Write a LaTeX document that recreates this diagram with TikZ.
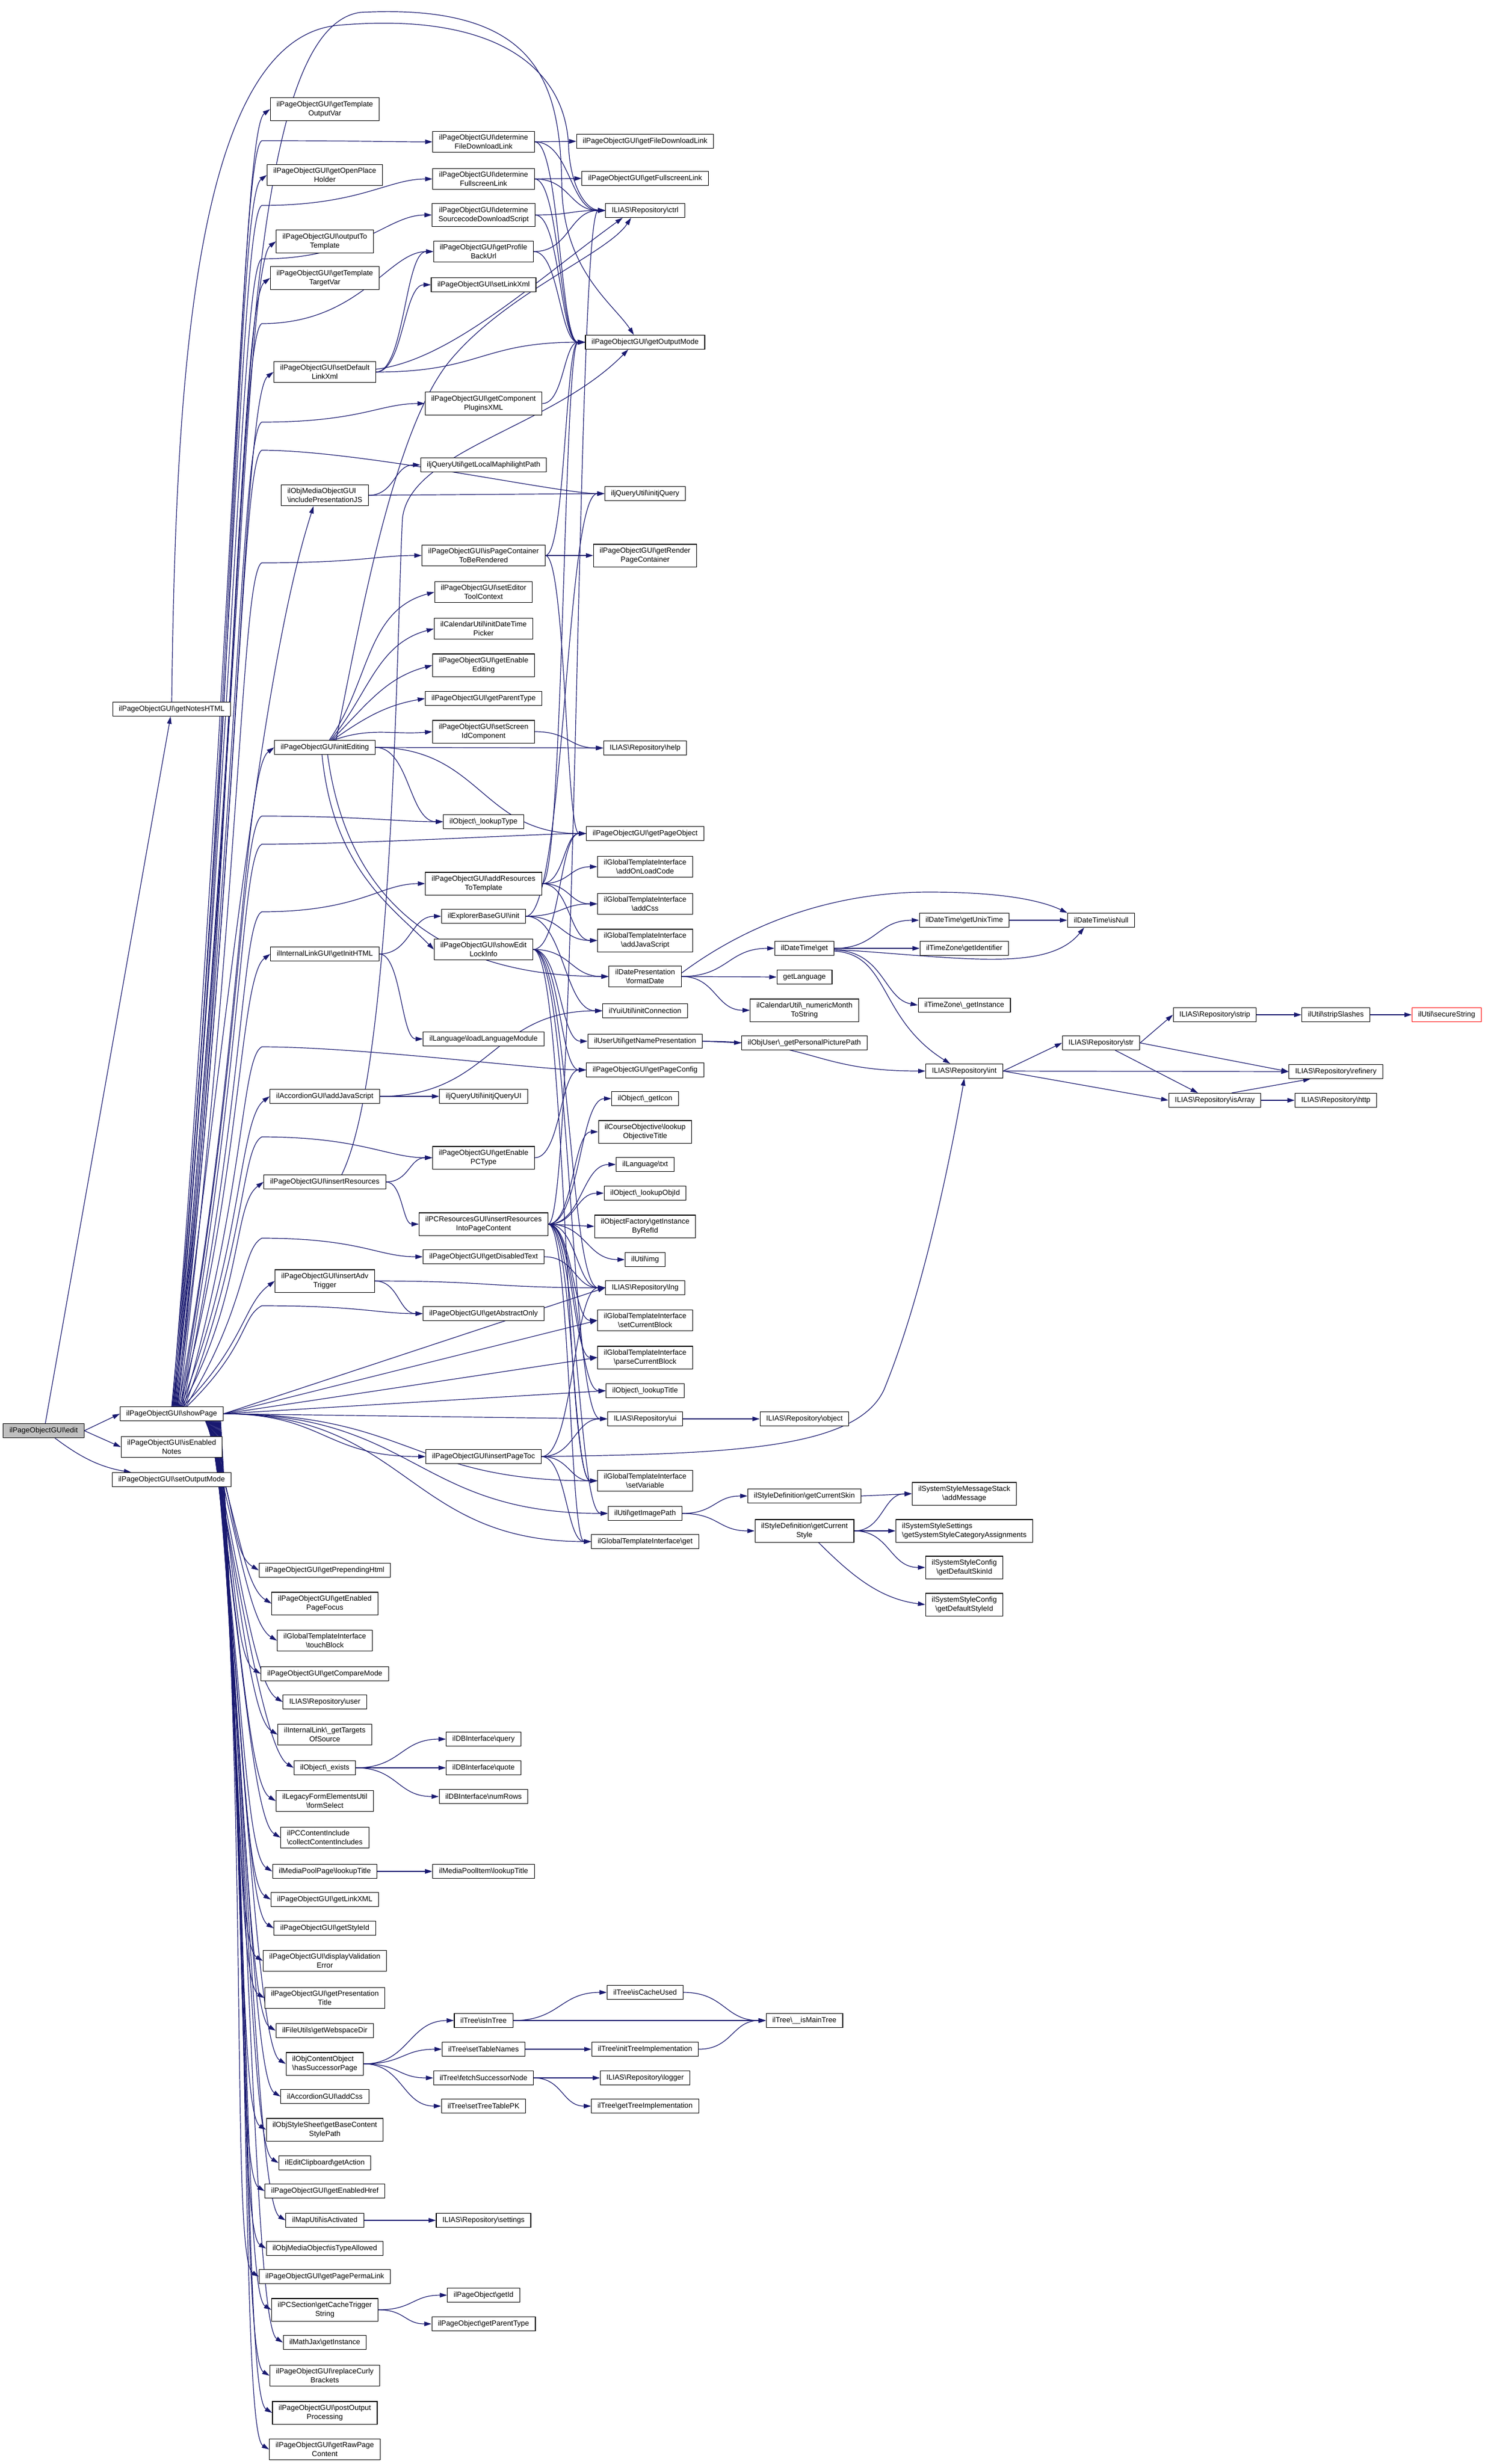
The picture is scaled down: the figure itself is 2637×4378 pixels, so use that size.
\documentclass[tikz,border=0pt]{standalone}
\usepackage{fontspec}
\setmainfont{Liberation Sans}
\usetikzlibrary{arrows.meta,calc}
\pgfdeclarelayer{background}
\pgfsetlayers{background,main}
\definecolor{edgec}{HTML}{191970}
\definecolor{gfill}{HTML}{BFBFBF}
\newcommand{\bs}{\textbackslash}
\newcommand{\fsz}{\fontsize{13}{16}\selectfont}
\tikzset{
 box/.style={draw=black, line width=1.1pt, fill=white, font=\fsz, inner xsep=11pt, inner ysep=6pt, minimum height=25pt, align=center},
 lbox/.style={box, align=left},
 link/.style={draw=edgec, line width=1.2pt, -{Triangle[length=13pt,width=8pt]}},
}
\newcommand{\lkH}[2]{\draw[link] let \p1=(#1.east),\p2=(#2.west),\n1={0.5*(\x2-\x1)} in (\p1) .. controls +(\n1,0) and +(-\n1,0) .. (\p2);}
\newcommand{\lkS}[2]{\draw[link] (#1.east) -- (#2.west);}
\newcommand{\lkU}[3]{\draw[link] let \p1=([xshift=#3pt]#1.north),\p2=(#2.west),\n1={0.5*(\y2-(\y1))} in (\p1) .. controls +(110,\n1) and +(-55,-40) .. (\p2);}
\newcommand{\lkD}[3]{\draw[link] let \p1=([xshift=#3pt]#1.south),\p2=(#2.west),\n1={0.5*(\y2-(\y1))} in (\p1) .. controls +(55,\n1) and +(-50,30) .. (\p2);}
\newcommand{\lkV}[4]{\draw[link] let \p1=([xshift=#3pt]#1.north),\p2=(#2.west),\n1={0.6*(-#4pt-(\y1))} in (\p1) .. controls +(110,\n1) and (428,-#4-20) .. (465,-#4) .. controls (640,-#4) and ($(\p2)+(-80,0)$) .. (\p2);}
\begin{document}
\begin{tikzpicture}[x=1pt,y=1pt]
\begin{pgfonlayer}{background}
\fill[white] (0,0) rectangle (2637,-4378);
\end{pgfonlayer}
\useasboundingbox (0,0) rectangle (2637,-4378);
% column 0 / 1
\node[box,fill=gfill] (edit) at (77.5,-2542) {ilPageObjectGUI\bs edit};
\node[box] (nhtml) at (305,-1260) {ilPageObjectGUI\bs getNotesHTML};
\node[box] (sp) at (305,-2512) {ilPageObjectGUI\bs showPage};
\node[box] (ien) at (305,-2571) {ilPageObjectGUI\bs isEnabled\\Notes};
\node[box] (som) at (305,-2629) {ilPageObjectGUI\bs setOutputMode};
% column 2
\node[box] (tov) at (577,-194) {ilPageObjectGUI\bs getTemplate\\OutputVar};
\node[box] (oph) at (577,-311) {ilPageObjectGUI\bs getOpenPlace\\Holder};
\node[box] (ott) at (577,-429) {ilPageObjectGUI\bs outputTo\\Template};
\node[box] (ttv) at (577,-494) {ilPageObjectGUI\bs getTemplate\\TargetVar};
\node[box] (sdl) at (577,-661) {ilPageObjectGUI\bs setDefault\\LinkXml};
\node[lbox] (ipj) at (577,-880) {ilObjMediaObjectGUI\\\bs includePresentationJS};
\node[box] (ie) at (577,-1328) {ilPageObjectGUI\bs initEditing};
\node[box] (gih) at (577,-1695) {ilInternalLinkGUI\bs getInitHTML};
\node[box] (ajs) at (577,-1948) {ilAccordionGUI\bs addJavaScript};
\node[box] (ir) at (577,-2100) {ilPageObjectGUI\bs insertResources};
\node[box] (iat) at (577,-2276) {ilPageObjectGUI\bs insertAdv\\Trigger};
\node[box] (pph) at (577,-2790) {ilPageObjectGUI\bs getPrependingHtml};
\node[box] (epf) at (577,-2849) {ilPageObjectGUI\bs getEnabled\\PageFocus};
\node[box] (tb) at (577,-2915) {ilGlobalTemplateInterface\\\bs touchBlock};
\node[box] (gcm) at (577,-2974) {ilPageObjectGUI\bs getCompareMode};
\node[box] (usr) at (577,-3024) {ILIAS\bs Repository\bs user};
\node[box] (gts) at (577,-3082) {ilInternalLink\bs\_getTargets\\OfSource};
\node[box] (oex) at (577,-3141) {ilObject\bs\_exists};
\node[box] (fs) at (577,-3200) {ilLegacyFormElementsUtil\\\bs formSelect};
\node[lbox] (cci) at (577,-3265) {ilPCContentInclude\\\bs collectContentIncludes};
\node[box] (mpp) at (577,-3325) {ilMediaPoolPage\bs lookupTitle};
\node[box] (glx) at (577,-3375) {ilPageObjectGUI\bs getLinkXML};
\node[box] (gsi) at (577,-3426) {ilPageObjectGUI\bs getStyleId};
\node[box] (dve) at (577,-3484) {ilPageObjectGUI\bs displayValidation\\Error};
\node[box] (gpt) at (577,-3550) {ilPageObjectGUI\bs getPresentation\\Title};
\node[box] (gwd) at (577,-3608) {ilFileUtils\bs getWebspaceDir};
\node[lbox] (hsp) at (577,-3667) {ilObjContentObject\\\bs hasSuccessorPage};
\node[box] (acss) at (577,-3725) {ilAccordionGUI\bs addCss};
\node[box] (bcs) at (577,-3784) {ilObjStyleSheet\bs getBaseContent\\StylePath};
\node[box] (ga) at (577,-3843) {ilEditClipboard\bs getAction};
\node[box] (geh) at (577,-3893) {ilPageObjectGUI\bs getEnabledHref};
\node[box] (mia) at (577,-3945) {ilMapUtil\bs isActivated};
\node[box] (ita) at (577,-3995) {ilObjMediaObject\bs isTypeAllowed};
\node[box] (ppl) at (577,-4045) {ilPageObjectGUI\bs getPagePermaLink};
\node[box] (cts) at (577,-4104) {ilPCSection\bs getCacheTrigger\\String};
\node[box] (mj) at (577,-4162) {ilMathJax\bs getInstance};
\node[box] (rcb) at (577,-4221) {ilPageObjectGUI\bs replaceCurly\\Brackets};
\node[box] (pop) at (577,-4287) {ilPageObjectGUI\bs postOutput\\Processing};
\node[box] (rpc) at (577,-4352) {ilPageObjectGUI\bs getRawPage\\Content};
% column 3
\node[box] (dfd) at (859,-252) {ilPageObjectGUI\bs determine\\FileDownloadLink};
\node[box] (dfs) at (859,-318) {ilPageObjectGUI\bs determine\\FullscreenLink};
\node[box] (dsd) at (859,-382) {ilPageObjectGUI\bs determine\\SourcecodeDownloadScript};
\node[box] (pbu) at (859,-447) {ilPageObjectGUI\bs getProfile\\BackUrl};
\node[box] (slx) at (859,-506) {ilPageObjectGUI\bs setLinkXml};
\node[box] (cpx) at (859,-717) {ilPageObjectGUI\bs getComponent\\PluginsXML};
\node[box] (lmp) at (859,-826) {iljQueryUtil\bs getLocalMaphilightPath};
\node[box] (pcr) at (859,-987) {ilPageObjectGUI\bs isPageContainer\\ToBeRendered};
\node[box] (etc) at (859,-1052) {ilPageObjectGUI\bs setEditor\\ToolContext};
\node[box] (dtp) at (859,-1117) {ilCalendarUtil\bs initDateTime\\Picker};
\node[box] (gee) at (859,-1182) {ilPageObjectGUI\bs getEnable\\Editing};
\node[box] (gpty) at (859,-1241) {ilPageObjectGUI\bs getParentType};
\node[box] (sic) at (859,-1300) {ilPageObjectGUI\bs setScreen\\IdComponent};
\node[box] (lt) at (859,-1460) {ilObject\bs\_lookupType};
\node[box] (art) at (859,-1570) {ilPageObjectGUI\bs addResources\\ToTemplate};
\node[box] (ebi) at (859,-1628) {ilExplorerBaseGUI\bs init};
\node[box] (eli) at (859,-1687) {ilPageObjectGUI\bs showEdit\\LockInfo};
\node[box] (llm) at (859,-1846) {ilLanguage\bs loadLanguageModule};
\node[box] (jui) at (859,-1948) {iljQueryUtil\bs initjQueryUI};
\node[box] (epc) at (859,-2057) {ilPageObjectGUI\bs getEnable\\PCType};
\node[box] (irp) at (859,-2175) {ilPCResourcesGUI\bs insertResources\\IntoPageContent};
\node[box] (gdt) at (859,-2233) {ilPageObjectGUI\bs getDisabledText};
\node[box] (gao) at (859,-2334) {ilPageObjectGUI\bs getAbstractOnly};
\node[box] (ipt) at (859,-2588) {ilPageObjectGUI\bs insertPageToc};
\node[box] (dbq) at (859,-3090) {ilDBInterface\bs query};
\node[box] (dbu) at (859,-3141) {ilDBInterface\bs quote};
\node[box] (dbn) at (859,-3192) {ilDBInterface\bs numRows};
\node[box] (mpi) at (859,-3325) {ilMediaPoolItem\bs lookupTitle};
\node[box] (tit) at (859,-3590) {ilTree\bs isInTree};
\node[box] (tstn) at (859,-3641) {ilTree\bs setTableNames};
\node[box] (tfs) at (859,-3692) {ilTree\bs fetchSuccessorNode};
\node[box] (tpk) at (859,-3742) {ilTree\bs setTreeTablePK};
\node[box] (rset) at (859,-3945) {ILIAS\bs Repository\bs settings};
\node[box] (pid) at (859,-4078) {ilPageObject\bs getId};
\node[box] (ppt) at (859,-4129) {ilPageObject\bs getParentType};
% column 4
\node[box] (gfd) at (1146,-251) {ilPageObjectGUI\bs getFileDownloadLink};
\node[box] (gfl) at (1146,-317) {ilPageObjectGUI\bs getFullscreenLink};
\node[box] (ctrl) at (1146,-374) {ILIAS\bs Repository\bs ctrl};
\node[box] (gom) at (1146,-608) {ilPageObjectGUI\bs getOutputMode};
\node[box] (ijq) at (1146,-877) {iljQueryUtil\bs initjQuery};
\node[box] (rpcn) at (1146,-987) {ilPageObjectGUI\bs getRender\\PageContainer};
\node[box] (help) at (1146,-1329) {ILIAS\bs Repository\bs help};
\node[box] (gpo) at (1146,-1481) {ilPageObjectGUI\bs getPageObject};
\node[box] (aolc) at (1146,-1540) {ilGlobalTemplateInterface\\\bs addOnLoadCode};
\node[box] (gcss) at (1146,-1606) {ilGlobalTemplateInterface\\\bs addCss};
\node[box] (gjs) at (1146,-1671) {ilGlobalTemplateInterface\\\bs addJavaScript};
\node[box] (fd) at (1146,-1735) {ilDatePresentation\\\bs formatDate};
\node[box] (yui) at (1146,-1796) {ilYuiUtil\bs initConnection};
\node[box] (unp) at (1146,-1850) {ilUserUtil\bs getNamePresentation};
\node[box] (gpc) at (1146,-1901) {ilPageObjectGUI\bs getPageConfig};
\node[box] (gic) at (1146,-1952) {ilObject\bs\_getIcon};
\node[box] (lot) at (1146,-2011) {ilCourseObjective\bs lookup\\ObjectiveTitle};
\node[box] (ltxt) at (1146,-2069) {ilLanguage\bs txt};
\node[box] (loi) at (1146,-2120) {ilObject\bs\_lookupObjId};
\node[box] (gir) at (1146,-2179) {ilObjectFactory\bs getInstance\\ByRefId};
\node[box] (img) at (1146,-2238) {ilUtil\bs img};
\node[box] (lng) at (1146,-2288) {ILIAS\bs Repository\bs lng};
\node[box] (scb) at (1146,-2346) {ilGlobalTemplateInterface\\\bs setCurrentBlock};
\node[box] (pcb) at (1146,-2412) {ilGlobalTemplateInterface\\\bs parseCurrentBlock};
\node[box] (ltt) at (1146,-2471) {ilObject\bs\_lookupTitle};
\node[box] (ui) at (1146,-2521) {ILIAS\bs Repository\bs ui};
\node[box] (sv) at (1146,-2631) {ilGlobalTemplateInterface\\\bs setVariable};
\node[box] (gip) at (1146,-2689) {ilUtil\bs getImagePath};
\node[box] (gget) at (1146,-2739) {ilGlobalTemplateInterface\bs get};
\node[box] (tcu) at (1146,-3540) {ilTree\bs isCacheUsed};
\node[box] (titi) at (1146,-3641) {ilTree\bs initTreeImplementation};
\node[box] (rlog) at (1146,-3692) {ILIAS\bs Repository\bs logger};
\node[box] (tgti) at (1146,-3742) {ilTree\bs getTreeImplementation};
% column 5
\node[box] (dtg) at (1429,-1685) {ilDateTime\bs get};
\node[box] (glang) at (1429,-1736) {getLanguage};
\node[box] (nms) at (1429,-1795) {ilCalendarUtil\bs\_numericMonth\\ToString};
\node[box] (ppp) at (1429,-1853) {ilObjUser\bs\_getPersonalPicturePath};
\node[box] (robj) at (1429,-2521) {ILIAS\bs Repository\bs object};
\node[box] (gcs) at (1429,-2658) {ilStyleDefinition\bs getCurrentSkin};
\node[box] (gcst) at (1429,-2720) {ilStyleDefinition\bs getCurrent\\Style};
\node[box] (imt) at (1429,-3590) {ilTree\bs\_\_isMainTree};
% column 6
\node[box] (gut) at (1713,-1635) {ilDateTime\bs getUnixTime};
\node[box] (tzi) at (1713,-1685) {ilTimeZone\bs getIdentifier};
\node[box] (tzg) at (1713,-1786) {ilTimeZone\bs\_getInstance};
\node[box] (rint) at (1713,-1903) {ILIAS\bs Repository\bs int};
\node[box] (ssm) at (1713,-2654) {ilSystemStyleMessageStack\\\bs addMessage};
\node[lbox] (sss) at (1713,-2720) {ilSystemStyleSettings\\\bs getSystemStyleCategoryAssignments};
\node[box] (dsk) at (1713,-2785) {ilSystemStyleConfig\\\bs getDefaultSkinId};
\node[box] (dst) at (1713,-2851) {ilSystemStyleConfig\\\bs getDefaultStyleId};
% columns 7-10
\node[box] (isn) at (1956,-1635) {ilDateTime\bs isNull};
\node[box] (rstr) at (1956,-1853) {ILIAS\bs Repository\bs str};
\node[box] (rstrip) at (2158,-1803) {ILIAS\bs Repository\bs strip};
\node[box] (rarr) at (2158,-1955) {ILIAS\bs Repository\bs isArray};
\node[box] (uss) at (2373,-1803) {ilUtil\bs stripSlashes};
\node[box] (rref) at (2373,-1904) {ILIAS\bs Repository\bs refinery};
\node[box] (rhttp) at (2373,-1955) {ILIAS\bs Repository\bs http};
\node[box,draw=red] (usec) at (2570,-1803) {ilUtil\bs secureString};

\begin{pgfonlayer}{background}
% edit
\draw[link] ([xshift=3pt]edit.north) -- ([xshift=-2pt]nhtml.south);
\lkS{edit}{sp}
\lkS{edit}{ien}
\draw[link] ([xshift=20pt]edit.south) .. controls +(40,-30) and +(-60,10) .. ([xshift=-72pt]som.north);
% top arcs
\draw[link] (nhtml.north) .. controls (312,-700) and (340,-70) .. (600,-45) .. controls (880,-20) and (1005,-120) .. (1010,-260) .. controls (1013,-330) and (1040,-372) .. (ctrl.west);
\draw[link] ([xshift=2pt]sp.north) .. controls (460,-1400) and (370,-60) .. (640,-22) .. controls (960,-5) and (995,-150) .. (998,-330) .. controls (1000,-480) and (1090,-540) .. ([xshift=-20pt]gom.north);
% showPage -> column 2 (up)
\lkU{sp}{tov}{0}
\lkU{sp}{oph}{2}
\lkU{sp}{ott}{4}
\lkU{sp}{ttv}{6}
\lkU{sp}{sdl}{8}
\draw[link] ([xshift=10pt]sp.north) .. controls +(110,900) and +(-80,-250) .. ([xshift=-20pt]ipj.south);
\lkU{sp}{ie}{12}
\lkU{sp}{gih}{14}
\lkU{sp}{ajs}{16}
\lkU{sp}{ir}{18}
\lkU{sp}{iat}{20}
% showPage -> column 2 (down)
\lkD{sp}{pph}{60}
\lkD{sp}{epf}{61}
\lkD{sp}{tb}{62}
\lkD{sp}{gcm}{63}
\lkD{sp}{usr}{64}
\lkD{sp}{gts}{65}
\lkD{sp}{oex}{66}
\lkD{sp}{fs}{67}
\lkD{sp}{cci}{68}
\lkD{sp}{mpp}{69}
\lkD{sp}{glx}{70}
\lkD{sp}{gsi}{71}
\lkD{sp}{dve}{72}
\lkD{sp}{gpt}{73}
\lkD{sp}{gwd}{74}
\lkD{sp}{hsp}{75}
\lkD{sp}{acss}{76}
\lkD{sp}{bcs}{77}
\lkD{sp}{ga}{78}
\lkD{sp}{geh}{79}
\lkD{sp}{mia}{80}
\lkD{sp}{ita}{81}
\lkD{sp}{ppl}{82}
\lkD{sp}{cts}{83}
\lkD{sp}{mj}{84}
\lkD{sp}{rcb}{85}
\lkD{sp}{pop}{86}
\lkD{sp}{rpc}{87}
% showPage -> far columns
\lkV{sp}{dfd}{1}{250}
\lkV{sp}{dfs}{3}{365}
\lkV{sp}{dsd}{5}{460}
\lkV{sp}{pbu}{7}{575}
\lkV{sp}{cpx}{9}{750}
\lkV{sp}{ijq}{11}{800}
\lkV{sp}{pcr}{13}{1000}
\lkV{sp}{lt}{15}{1450}
\lkV{sp}{gpo}{17}{1500}
\lkV{sp}{art}{19}{1620}
\lkV{sp}{gpc}{21}{1860}
\lkV{sp}{epc}{23}{2020}
\lkV{sp}{gdt}{25}{2200}
\lkV{sp}{gao}{27}{2320}
\lkS{sp}{lng}
\lkS{sp}{scb}
\lkS{sp}{pcb}
\lkS{sp}{ltt}
\lkS{sp}{ui}
\lkH{sp}{ipt}
\lkH{sp}{sv}
\lkH{sp}{gip}
\lkH{sp}{gget}
% initEditing
\draw[link] ([xshift=8pt]ie.north) to[out=55,in=195] (etc.west);
\draw[link] ([xshift=10pt]ie.north) to[out=50,in=195] (dtp.west);
\draw[link] ([xshift=12pt]ie.north) to[out=45,in=195] (gee.west);
\draw[link] ([xshift=14pt]ie.north) to[out=35,in=190] (gpty.west);
\draw[link] ([xshift=16pt]ie.north) to[out=20,in=185] (sic.west);
\lkS{ie}{help}
\lkH{ie}{lt}
\lkH{ie}{gpo}
\draw[link] ([xshift=20pt]ie.north) .. controls (640,-1100) and (700,-760) .. (800,-640) .. controls (900,-520) and (1080,-450) .. ([xshift=-25pt]ctrl.south);
\draw[link] ([xshift=-5pt]ie.south) .. controls +(20,-200) and +(-80,80) .. (eli.west);
\draw[link] ([xshift=5pt]ie.south) .. controls +(40,-300) and +(-250,0) .. (fd.west);
% other column 2 sources
\lkH{sdl}{pbu}
\lkH{sdl}{slx}
\lkH{sdl}{gom}
\draw[link] ([yshift=5pt]sdl.east) .. controls (800,-640) and (950,-500) .. ([xshift=-40pt]ctrl.south);
\lkH{ipj}{lmp}
\lkS{ipj}{ijq}
\lkH{gih}{ebi}
\lkH{gih}{llm}
\lkS{ajs}{jui}
\lkH{ajs}{yui}
\lkH{ir}{epc}
\lkH{ir}{irp}
\draw[link] ([xshift=30pt]ir.north) .. controls (700,-1900) and (705,-1100) .. (715,-920) .. controls (730,-800) and (980,-760) .. ([xshift=-30pt]gom.south);
\lkH{iat}{gao}
\lkH{iat}{lng}
\lkH{oex}{dbq}
\lkS{oex}{dbu}
\lkH{oex}{dbn}
\lkS{mpp}{mpi}
\lkH{hsp}{tit}
\lkH{hsp}{tstn}
\lkH{hsp}{tfs}
\lkH{hsp}{tpk}
\lkS{mia}{rset}
\lkH{cts}{pid}
\lkH{cts}{ppt}
% column 3 sources
\lkS{dfd}{gfd}
\lkH{dfd}{ctrl}
\lkH{dfd}{gom}
\lkS{dfs}{gfl}
\lkH{dfs}{ctrl}
\lkH{dfs}{gom}
\lkH{dsd}{ctrl}
\lkH{dsd}{gom}
\lkH{pbu}{ctrl}
\lkH{pbu}{gom}
\lkH{cpx}{gom}
\lkS{pcr}{rpcn}
\lkH{pcr}{gom}
\lkH{pcr}{gpo}
\lkH{sic}{help}
\lkH{art}{gpo}
\lkH{art}{aolc}
\lkH{art}{gcss}
\lkH{art}{gjs}
\lkH{art}{gom}
\lkH{ebi}{gcss}
\lkH{ebi}{gjs}
\lkH{ebi}{yui}
\lkH{ebi}{ijq}
\lkH{eli}{gpo}
\lkH{eli}{fd}
\lkH{eli}{unp}
\lkH{eli}{gpc}
\lkH{eli}{lng}
\lkH{eli}{ui}
\lkH{eli}{sv}
\lkH{epc}{gpc}
\lkH{irp}{ctrl}
\lkH{irp}{gic}
\lkH{irp}{lot}
\lkH{irp}{ltxt}
\lkH{irp}{loi}
\lkS{irp}{gir}
\lkH{irp}{img}
\lkH{irp}{lng}
\lkH{irp}{scb}
\lkH{irp}{pcb}
\lkH{irp}{ltt}
\lkH{irp}{sv}
\lkH{irp}{gip}
\lkH{irp}{gget}
\lkH{gdt}{lng}
\lkH{ipt}{lng}
\lkH{ipt}{ui}
\lkH{ipt}{sv}
\lkH{ipt}{gget}
\draw[link] (ipt.east) .. controls (1300,-2583) and (1520,-2575) .. (1570,-2470) .. controls (1640,-2300) and (1690,-2050) .. (rint.south);
\lkH{tit}{tcu}
\lkS{tit}{imt}
\lkS{tstn}{titi}
\lkS{tfs}{rlog}
\lkH{tfs}{tgti}
% column 4 sources
\lkH{fd}{dtg}
\lkS{fd}{glang}
\lkH{fd}{nms}
\draw[link] ([yshift=6pt]fd.east) .. controls (1330,-1640) and (1480,-1585) .. (1650,-1585) .. controls (1780,-1585) and (1850,-1600) .. (isn.north west);
\lkS{unp}{ppp}
\lkH{unp}{rint}
\lkS{ui}{robj}
\lkH{gip}{gcs}
\lkH{gip}{gcst}
\lkH{tcu}{imt}
\lkH{titi}{imt}
% column 5 sources
\lkH{dtg}{gut}
\lkS{dtg}{tzi}
\draw[link] ([yshift=-3pt]dtg.east) .. controls (1570,-1690) and (1570,-1775) .. (tzg.west);
\draw[link] ([yshift=-5pt]dtg.east) .. controls (1580,-1695) and (1560,-1810) .. ([xshift=-25pt]rint.north);
\draw[link] ([yshift=-2pt]dtg.east) .. controls (1700,-1700) and (1860,-1730) .. ([xshift=-30pt]isn.south);
\lkS{gcs}{ssm}
\lkH{gcst}{ssm}
\lkS{gcst}{sss}
\lkH{gcst}{dsk}
\draw[link] ([xshift=25pt]gcst.south) .. controls +(60,-60) and +(-80,10) .. (dst.west);
% right part
\lkS{gut}{isn}
\lkS{rint}{rstr}
\lkS{rint}{rref}
\lkS{rint}{rarr}
\lkS{rstr}{rstrip}
\lkS{rstr}{rref}
\draw[link] ([xshift=25pt]rstr.south) -- ([xshift=-30pt]rarr.north);
\lkS{rstrip}{uss}
\draw[link] ([xshift=30pt]rarr.north) -- ([xshift=-45pt]rref.south);
\lkS{rarr}{rhttp}
\lkS{uss}{usec}
\end{pgfonlayer}
\end{tikzpicture}
\end{document}
